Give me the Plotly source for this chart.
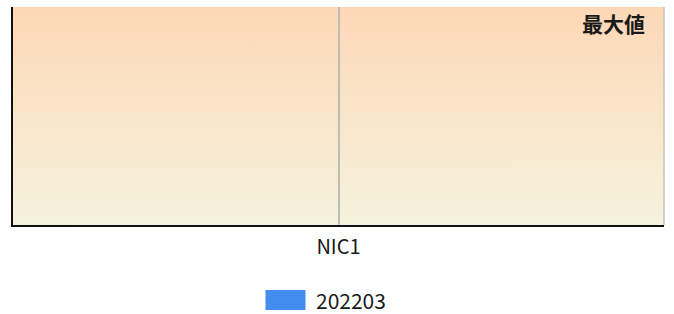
import base64
import plotly.graph_objects as go

categories = ["NIC1"]
series_name = "202203"
series_values = [0]
max_label = "最大値"
bar_color = "#438CF0"

grad_svg = (
    '<svg xmlns="http://www.w3.org/2000/svg" width="10" height="100" viewBox="0 0 10 100" preserveAspectRatio="none">'
    '<defs><linearGradient id="g" x1="0" y1="0" x2="0" y2="1">'
    '<stop offset="0" stop-color="#FDD8B6"/><stop offset="1" stop-color="#F5F3DD"/>'
    '</linearGradient></defs><rect width="10" height="100" fill="url(#g)"/></svg>'
)
grad_uri = "data:image/svg+xml;base64," + base64.b64encode(grad_svg.encode()).decode()

fig = go.Figure()
fig.add_trace(go.Bar(x=categories, y=series_values, name=series_name,
                     marker_color=bar_color, showlegend=False))

font_family = "Noto Sans CJK JP, Noto Sans, sans-serif"

fig.update_layout(
    width=674, height=314,
    margin=dict(l=13, r=10, t=7, b=89),
    paper_bgcolor="white",
    plot_bgcolor="rgba(0,0,0,0)",
    font=dict(family=font_family, color="#1a1a1a"),
    images=[dict(source=grad_uri, xref="paper", yref="paper", x=0, y=1,
                 sizex=1, sizey=1, xanchor="left", yanchor="top",
                 sizing="stretch", layer="below")],
    xaxis=dict(showline=True, linecolor="#111111", linewidth=2,
               showgrid=True, gridcolor="#BDBCB4", gridwidth=1.5,
               ticks="outside", ticklen=3, tickcolor="rgba(0,0,0,0)",
               tickfont=dict(size=20, color="#1a1a1a", family=font_family),
               zeroline=False),
    yaxis=dict(range=[0, 1], showline=True, linecolor="#111111", linewidth=2,
               showgrid=False, showticklabels=False, ticks="", zeroline=False),
    shapes=[
        dict(type="line", xref="paper", yref="paper", x0=1, x1=1, y0=0, y1=1,
             line=dict(color="#C4C3BB", width=1.5)),
        dict(type="rect", xref="paper", yref="paper",
             x0=(265.5 - 13) / 651, x1=(305.5 - 13) / 651,
             y0=-(310 - 225) / 218, y1=-(290 - 225) / 218,
             fillcolor=bar_color, line=dict(width=0)),
    ],
    annotations=[
        dict(text="<b>" + max_label + "</b>", xref="paper", yref="paper", x=1, y=1,
             xanchor="right", yanchor="top", xshift=-17, yshift=1,
             showarrow=False, font=dict(size=21, color="#1a1a1a")),
        dict(text=series_name, xref="paper", yref="paper",
             x=(314 - 13) / 651, y=-(299.5 - 225) / 218,
             xanchor="left", yanchor="middle", showarrow=False,
             font=dict(size=21, color="#1a1a1a")),
    ],
)

fig.write_html("out.html", config={"displayModeBar": False},
               post_script="document.body.style.margin='0';document.body.style.overflow='hidden';")
